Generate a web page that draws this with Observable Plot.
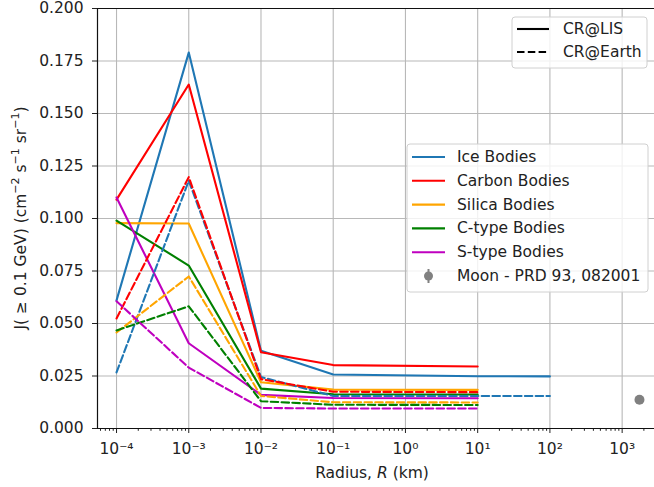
<!DOCTYPE html>
<html><head><meta charset="utf-8">
<script src="https://cdn.jsdelivr.net/npm/d3@7"></script>
<script src="https://cdn.jsdelivr.net/npm/@observablehq/plot@0.6"></script>
<style>
html,body{margin:0;padding:0;background:#fff;overflow:hidden;}
#chart{position:relative;width:654px;height:487px;overflow:hidden;}
svg{font-family:"DejaVu Sans",sans-serif;}
</style></head><body><div id="chart"></div>
<script>
// ---- data ----
const bodies = ["Ice Bodies", "Carbon Bodies", "Silica Bodies", "C-type Bodies", "S-type Bodies"];
const colors = ["#1f77b4", "#ff0000", "#ffa500", "#008000", "#bf00bf"];
const radiusKm = [1e-4, 1e-3, 1e-2, 1e-1, 1e1];
const radiusIceKm = [1e-4, 1e-3, 1e-2, 1e-1, 1e1, 1e2];

const iceLIS     = [0.061, 0.179, 0.037, 0.0257, 0.0249, 0.0248];
const iceEarth   = [0.0267, 0.118, 0.0245, 0.0155, 0.0155, 0.0155];
const carbonLIS  = [0.109, 0.1638, 0.0363, 0.0302, 0.0295];
const carbonEarth= [0.0524, 0.1197, 0.0235, 0.0175, 0.0173];
const silicaLIS  = [0.0978, 0.0976, 0.022, 0.0185, 0.0184];
const silicaEarth= [0.0457, 0.0724, 0.0155, 0.0125, 0.0124];
const ctypeLIS   = [0.099, 0.0776, 0.019, 0.0163, 0.0162];
const ctypeEarth = [0.0467, 0.0582, 0.013, 0.0113, 0.0112];
const stypeLIS   = [0.110, 0.0406, 0.016, 0.0145, 0.0144];
const stypeEarth = [0.0606, 0.029, 0.0098, 0.0095, 0.0095];

const moonLabel = "Moon - PRD 93, 082001";
const moonRadiusKm = 1737;
const moonJ = 0.0137;
const moonErr = 0.0008;

const crLabels = ["CR@LIS", "CR@Earth"];
const xMajorTicks = [1e-4, 1e-3, 1e-2, 1e-1, 1e0, 1e1, 1e2, 1e3];
const yTicks = [0, 0.025, 0.05, 0.075, 0.1, 0.125, 0.15, 0.175, 0.2];
const xLabelText = ["Radius, ", "R", " (km)"];
const yLabelParts = ["J( \u2265 0.1 GeV) (cm", "\u22122", " s", "\u22121", " sr", "\u22121", ")"];

// ---- build table ----
const lisSeries = [iceLIS, carbonLIS, silicaLIS, ctypeLIS, stypeLIS];
const earthSeries = [iceEarth, carbonEarth, silicaEarth, ctypeEarth, stypeEarth];
const rowsLIS = [], rowsEarth = [];
bodies.forEach((b, i) => {
  const xs = i === 0 ? radiusIceKm : radiusKm;
  lisSeries[i].forEach((v, k) => rowsLIS.push({body: b, r: xs[k], j: v}));
  earthSeries[i].forEach((v, k) => rowsEarth.push({body: b, r: xs[k], j: v}));
});
const moon = [{r: moonRadiusKm, j: moonJ, e: moonErr}];

const xDomain = [5.452e-5, 2805];
const minorTicks = [];
for (let d = -5; d <= 3; d++) for (let k = 2; k <= 9; k++) {
  const v = k * Math.pow(10, d);
  if (v > xDomain[0] && v < xDomain[1]) minorTicks.push(v);
}
const supMap = {"-": "\u207b", "0": "\u2070", "1": "\u00b9", "2": "\u00b2", "3": "\u00b3", "4": "\u2074", "5": "\u2075"};
const fmtPow = d => "10" + String(Math.round(Math.log10(d))).split("").map(c => supMap[c]).join("");

const W = 654, H = 487, ML = 97, MR = 0, MT = 8, MB = 59;
const dash = "7.5,3.3";
const FS = "15.5px";

const svg = Plot.plot({
  width: W, height: H,
  marginLeft: ML, marginRight: MR, marginTop: MT, marginBottom: MB,
  style: {fontFamily: "DejaVu Sans", fontSize: FS, color: "#222", background: "white", overflow: "hidden"},
  x: {type: "log", domain: xDomain},
  y: {domain: [0, 0.2]},
  color: {domain: bodies, range: colors},
  marks: [
    Plot.gridX(xMajorTicks, {stroke: "#b8b8b8", strokeOpacity: 1, strokeWidth: 1.1}),
    Plot.gridY(yTicks, {stroke: "#b8b8b8", strokeOpacity: 1, strokeWidth: 1.1}),
    Plot.line(rowsLIS, {x: "r", y: "j", z: "body", stroke: "body", strokeWidth: 2.1}),
    Plot.line(rowsEarth, {x: "r", y: "j", z: "body", stroke: "body", strokeWidth: 2.1, strokeDasharray: dash}),
    Plot.ruleX(moon, {x: "r", y1: d => d.j - d.e, y2: d => d.j + d.e, stroke: "#808080", strokeWidth: 2}),
    Plot.dot(moon, {x: "r", y: "j", r: 5, fill: "#808080"}),
    Plot.axisX(minorTicks, {tickSize: 2.8, tickFormat: () => "", label: null, stroke: "#222"}),
    Plot.axisX(xMajorTicks, {tickSize: 5, tickPadding: 9, tickFormat: fmtPow, label: null, stroke: "#222", fill: "#222"}),
    Plot.axisY(yTicks, {tickSize: 5, tickPadding: 9, tickFormat: d3.format(".3f"), label: null, stroke: "#222", fill: "#222"}),
    Plot.ruleX([xDomain[0]], {stroke: "#111", strokeWidth: 1.2}),
    Plot.ruleY([0, 0.2], {stroke: "#111", strokeWidth: 1.2})
  ]
});
document.getElementById("chart").appendChild(svg);

// ---- axis labels & legends (annotations) ----
const s = d3.select(svg);
const xl = s.append("text").attr("x", 372).attr("y", 473).attr("text-anchor", "middle")
  .attr("dominant-baseline", "central").attr("fill", "#222").style("font-size", FS);
xl.append("tspan").text(xLabelText[0]);
xl.append("tspan").attr("font-style", "italic").text(xLabelText[1]);
xl.append("tspan").text(xLabelText[2]);

const yl = s.append("text").attr("transform", "translate(21,218) rotate(-90)").attr("text-anchor", "middle")
  .attr("dominant-baseline", "central").attr("fill", "#222").style("font-size", FS);
yLabelParts.forEach((p, i) => {
  const t = yl.append("tspan").text(p);
  if (i % 2 === 1 && i > 0) t.attr("dy", -6).style("font-size", "11px");
  else if (i > 1) t.attr("dy", 6);
});

// legend 1: line styles
const g1 = s.append("g").attr("text-anchor", "start");
g1.append("rect").attr("x", 512).attr("y", 17).attr("width", 135).attr("height", 51).attr("rx", 3)
  .attr("fill", "white").attr("fill-opacity", 0.8).attr("stroke", "#d0d0d0");
crLabels.forEach((lab, i) => {
  const y = 29 + i * 23;
  g1.append("line").attr("x1", 517).attr("x2", 549).attr("y1", y).attr("y2", y)
    .attr("stroke", "#000").attr("stroke-width", 2.1).attr("stroke-dasharray", i ? dash : null);
  g1.append("text").attr("x", 563).attr("y", y).attr("dominant-baseline", "central").attr("text-anchor", "start")
    .attr("fill", "#222").style("font-size", FS).text(lab);
});

// legend 2: bodies
const g2 = s.append("g").attr("text-anchor", "start");
g2.append("rect").attr("x", 407).attr("y", 144).attr("width", 241).attr("height", 148).attr("rx", 3)
  .attr("fill", "white").attr("fill-opacity", 0.8).attr("stroke", "#d0d0d0");
bodies.forEach((b, i) => {
  const y = 157 + i * 23.8;
  g2.append("line").attr("x1", 412).attr("x2", 445).attr("y1", y).attr("y2", y)
    .attr("stroke", colors[i]).attr("stroke-width", 2.1);
  g2.append("text").attr("x", 457).attr("y", y).attr("dominant-baseline", "central").attr("text-anchor", "start")
    .attr("fill", "#222").style("font-size", FS).text(b);
});
{
  const y = 157 + 5 * 23.8;
  g2.append("line").attr("x1", 428.5).attr("x2", 428.5).attr("y1", y - 7).attr("y2", y + 7)
    .attr("stroke", "#808080").attr("stroke-width", 2);
  g2.append("circle").attr("cx", 428.5).attr("cy", y).attr("r", 4.5).attr("fill", "#808080");
  g2.append("text").attr("x", 457).attr("y", y).attr("dominant-baseline", "central").attr("text-anchor", "start")
    .attr("fill", "#222").style("font-size", FS).text(moonLabel);
}
</script></body></html>
